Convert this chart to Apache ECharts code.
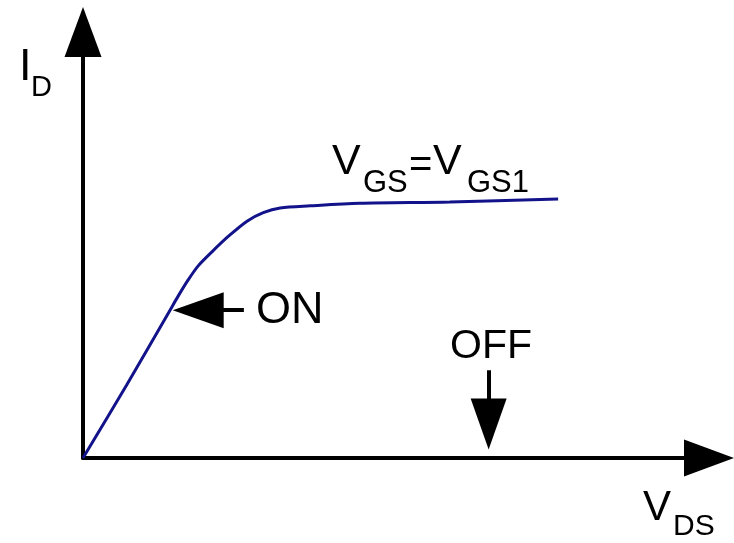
<!DOCTYPE html>
<html>
<head>
<meta charset="utf-8">
<script src="https://cdn.jsdelivr.net/npm/echarts@6/dist/echarts.min.js"></script>
<style>
  html, body { margin: 0; padding: 0; background: #fff; }
  #chart { width: 734px; height: 543px; }
</style>
</head>
<body>
<div id="chart"></div>
<script>
// Curve (V_DS, I_D in arbitrary units)
var vds = [0, 0.70, 1.39, 1.52, 1.68, 1.84, 2.06, 2.32, 2.62, 2.88, 3.15, 3.63, 4.42, 5.86, 7.59];
var id = [0, 1.72, 3.47, 3.80, 4.18, 4.51, 4.84, 5.20, 5.56, 5.76, 5.87, 5.92, 5.98, 6.01, 6.08];

// Annotation arrows: [from, to-head-centre]
var onArrow = [[2.57, 3.47], [1.84, 3.47]];
var offArrow = [[6.48, 2.06], [6.48, 0.80]];

var curve = vds.map(function (v, i) { return [v, id[i]]; });

var font = "'Liberation Sans', Arial, sans-serif";
function txt(s, x, y, size) {
    return {
        type: 'text', left: x, top: y - size / 2,
        style: { text: s, fontSize: size, fontFamily: font, fill: '#000' }
    };
}

var chart = echarts.init(document.getElementById('chart'));
chart.setOption({
    animation: false,
    grid: { left: 83, right: 25, top: 32, bottom: 85 },
    xAxis: {
        type: 'value', min: 0, max: 10,
        axisLine: { lineStyle: { color: '#000', width: 4 }, symbol: ['none', 'triangle'], symbolSize: [37, 50] },
        axisTick: { show: false }, axisLabel: { show: false }, splitLine: { show: false }
    },
    yAxis: {
        type: 'value', min: 0, max: 10,
        axisLine: { show: true, lineStyle: { color: '#000', width: 4 }, symbol: ['none', 'triangle'], symbolSize: [37, 50] },
        axisTick: { show: false }, axisLabel: { show: false }, splitLine: { show: false }
    },
    series: [
        {
            type: 'line', data: curve, showSymbol: false, smooth: 0.3,
            lineStyle: { color: '#12128a', width: 3 }, z: 3
        },
        {
            type: 'line', data: [],
            markLine: {
                silent: true,
                symbol: ['none', 'path://M18,0L36,51L0,51Z'],
                symbolSize: 51,
                symbolKeepAspect: true,
                label: { show: false },
                lineStyle: { color: '#000', width: 4, type: 'solid' },
                itemStyle: { color: '#000' },
                emphasis: { disabled: true },
                data: [
                    [{ coord: onArrow[0] }, { coord: onArrow[1] }],
                    [{ coord: offArrow[0] }, { coord: offArrow[1] }]
                ]
            }
        }
    ],
    graphic: [
        txt('I', 19, 68, 45),
        txt('D', 31, 88, 29),
        txt('V', 332, 162, 43),
        txt('GS', 363, 183, 31),
        txt('=', 409, 166, 40),
        txt('V', 433, 162, 43),
        txt('GS1', 467, 183, 31),
        txt('ON', 256, 311, 45),
        txt('OFF', 450, 347, 41),
        txt('V', 643, 508, 42),
        txt('DS', 673, 527, 30)
    ]
});
</script>
</body>
</html>
